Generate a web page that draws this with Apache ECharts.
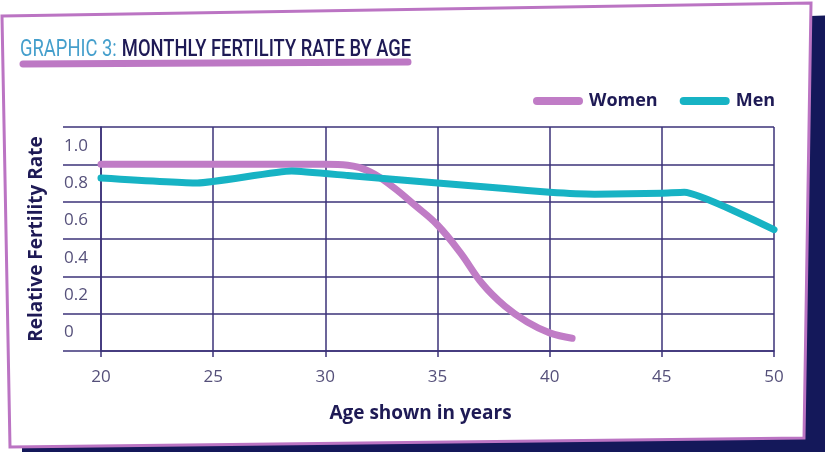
<!DOCTYPE html>
<html>
<head>
<meta charset="utf-8">
<script src="https://cdn.jsdelivr.net/npm/echarts/dist/echarts.min.js"></script>
<style>
  html, body { margin: 0; padding: 0; background: #ffffff; }
  #chart { width: 825px; height: 452px; }
</style>
</head>
<body>
<div id="chart"></div>
<script>
// Age axis ticks (years)
const ageTicks = [20, 25, 30, 35, 40, 45, 50];
// Relative fertility rate tick labels
const rateTicks = ['0', '0.2', '0.4', '0.6', '0.8', '1.0'];

// Women: age vs relative fertility rate
const womenAge  = [20, 25, 30, 31, 32, 33, 34, 35, 36, 37, 38, 39, 40, 41];
const womenRate = [1.0, 1.0, 1.0, 0.995, 0.96, 0.88, 0.78, 0.675, 0.53, 0.36, 0.24, 0.155, 0.097, 0.068];

// Men: age vs relative fertility rate
const menAge  = [20, 24.3, 28.5, 31, 35, 38, 40, 42, 45, 46, 50];
const menRate = [0.927, 0.9, 0.964, 0.94, 0.9, 0.87, 0.85, 0.84, 0.845, 0.85, 0.65];

const NAVY = '#1e1a55';
const GRID = '#3b3278';
const PINK = '#c07cc6';
const TEAL = '#17b3c4';
const LABEL = '#55507a';

const pairs = (xs, ys) => xs.map((x, i) => [x, ys[i]]);

const chart = echarts.init(document.getElementById('chart'), null, { renderer: 'canvas' });

chart.setOption({
  animation: false,
  backgroundColor: '#ffffff',
  textStyle: { fontFamily: 'Open Sans, sans-serif' },
  graphic: [
    // card shadow
    {
      type: 'polygon', z: -100, silent: true,
      shape: { points: [[22, 42], [840, 15], [840, 470], [22, 470]] },
      style: { fill: '#14185a' }
    },
    // card
    {
      type: 'polygon', z: -90, silent: true,
      shape: { points: [[2, 16], [811, 3], [804, 438], [10, 447]] },
      style: { fill: '#ffffff', stroke: '#bb74c3', lineWidth: 3 }
    },
    // title
    {
      type: 'text', z: 10, silent: true,
      x: 20, y: 38, scaleX: 0.765,
      style: {
        text: '{a|GRAPHIC 3:}  {b|MONTHLY FERTILITY RATE BY AGE}',
        rich: {
          a: { fontFamily: 'Roboto', fontSize: 24, fontWeight: 400, fill: '#459fcc' },
          b: { fontFamily: 'Roboto', fontSize: 24, fontWeight: 500, fill: NAVY }
        }
      }
    },
    // title underline
    {
      type: 'line', z: 10, silent: true,
      shape: { x1: 23, y1: 64, x2: 408, y2: 62 },
      style: { stroke: '#bd78c4', lineWidth: 7, lineCap: 'round' }
    }
  ],
  legend: {
    left: 528, top: 87,
    itemWidth: 50, itemHeight: 8, itemGap: 22,
    icon: 'path://M4,0 H46 A4,4 0 0 1 46,8 H4 A4,4 0 0 1 4,0 Z',
    textStyle: { fontFamily: 'Open Sans', fontWeight: 'bold', fontSize: 18, color: NAVY, padding: [0, 0, 0, 1] },
    data: ['Women', 'Men']
  },
  grid: [
    { left: 101, right: 51, top: 127, bottom: 101, outerBoundsMode: 'none', containLabel: false },
    { left: 63, width: 38, top: 127, bottom: 101, outerBoundsMode: 'none', containLabel: false }
  ],
  xAxis: [
    {
      type: 'value', gridIndex: 0,
      min: 20, max: 50, interval: 5,
      name: 'Age shown in years',
      nameLocation: 'middle', nameGap: 53,
      nameTextStyle: { fontFamily: 'Open Sans', fontWeight: 'bold', fontSize: 19, color: NAVY, padding: [0, 34, 0, 0] },
      axisLine: { show: true, lineStyle: { color: GRID, width: 1.5 } },
      axisTick: { show: true, length: 6, lineStyle: { color: GRID, width: 1.5 } },
      splitLine: { show: true, lineStyle: { color: GRID, width: 1.5 } },
      axisLabel: {
        margin: 18, fontSize: 17, color: LABEL, fontFamily: 'Open Sans',
        formatter: v => ageTicks.includes(v) ? String(v) : ''
      }
    },
    { type: 'value', gridIndex: 1, min: 0, max: 1, show: false }
  ],
  yAxis: [
    {
      type: 'value', gridIndex: 0,
      min: 0, max: 1.2, interval: 0.2,
      name: 'Relative Fertility Rate',
      nameLocation: 'middle', nameGap: 55, nameRotate: 90,
      nameTextStyle: { fontFamily: 'Open Sans', fontWeight: 'bold', fontSize: 19, color: NAVY },
      axisLine: { show: true, lineStyle: { color: GRID, width: 1.5 } },
      axisTick: { show: false },
      splitLine: { show: true, lineStyle: { color: GRID, width: 1.5 } },
      axisLabel: {
        margin: 37, align: 'left', verticalAlign: 'bottom', lineHeight: 37,
        fontSize: 17, color: LABEL, fontFamily: 'Open Sans',
        formatter: v => {
          const i = Math.round(v / 0.2);
          return i < rateTicks.length ? rateTicks[i] : '';
        }
      }
    },
    {
      type: 'value', gridIndex: 1,
      min: 0, max: 1.2, interval: 0.2,
      axisLine: { show: false }, axisTick: { show: false }, axisLabel: { show: false },
      splitLine: { show: true, lineStyle: { color: GRID, width: 1.5 } }
    }
  ],
  series: [
    {
      name: 'Women', type: 'line', xAxisIndex: 0, yAxisIndex: 0,
      data: pairs(womenAge, womenRate),
      smooth: 0.4, showSymbol: false, symbol: 'none',
      lineStyle: { color: PINK, width: 7, cap: 'round', join: 'round' },
      itemStyle: { color: PINK }, z: 3
    },
    {
      name: 'Men', type: 'line', xAxisIndex: 0, yAxisIndex: 0,
      data: pairs(menAge, menRate),
      smooth: 0.15, showSymbol: false, symbol: 'none',
      lineStyle: { color: TEAL, width: 7, cap: 'round', join: 'round' },
      itemStyle: { color: TEAL }, z: 4
    }
  ]
});
</script>
</body>
</html>
